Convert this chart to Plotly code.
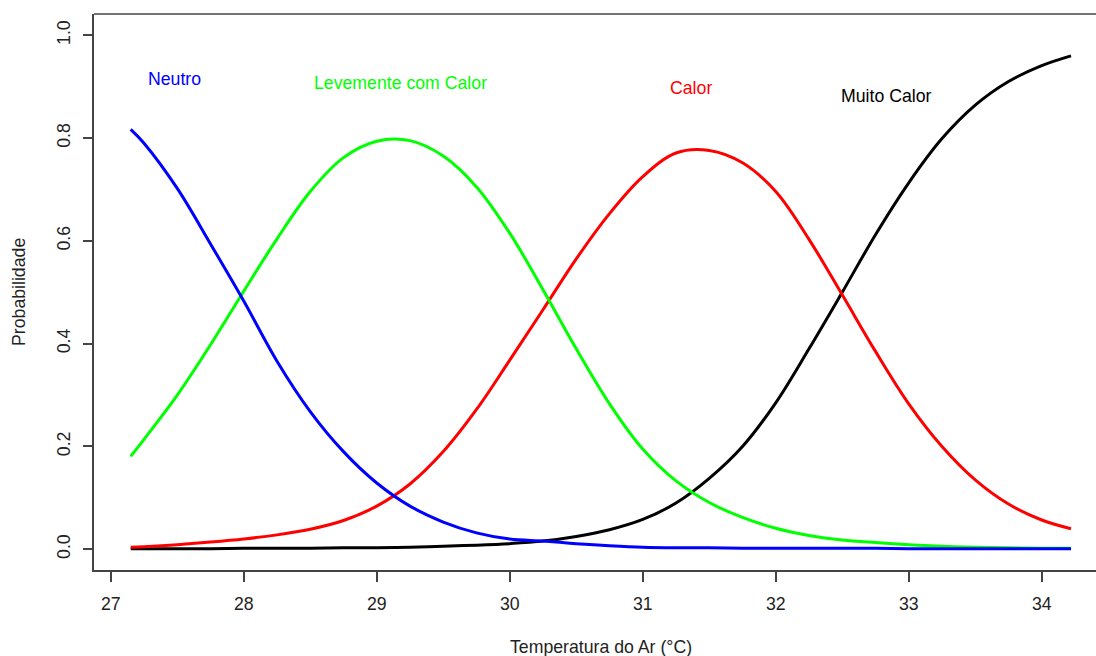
import plotly.graph_objects as go

# Air temperature grid (°C) and predicted probability of each thermal-sensation class
temperatura = [27.15, 27.25, 27.5, 27.75, 28.0, 28.25, 28.5, 28.75, 29.0, 29.25, 29.5,
               29.75, 30.0, 30.25, 30.5, 30.75, 31.0, 31.25, 31.5, 31.75, 32.0,
               32.25, 32.5, 32.75, 33.0, 33.25, 33.5, 33.75, 34.0, 34.22]

p_neutro = [0.817, 0.790, 0.702, 0.594, 0.483, 0.366, 0.268, 0.190, 0.129, 0.084, 0.053,
            0.032, 0.020, 0.016, 0.011, 0.007, 0.004, 0.003, 0.003, 0.002, 0.002,
            0.002, 0.002, 0.002, 0.001, 0.001, 0.001, 0.001, 0.001, 0.001]

p_levemente = [0.181, 0.214, 0.300, 0.398, 0.502, 0.604, 0.696, 0.762, 0.794, 0.795, 0.765,
               0.705, 0.615, 0.505, 0.390, 0.283, 0.195, 0.133, 0.091, 0.062, 0.041,
               0.027, 0.018, 0.013, 0.009, 0.006, 0.004, 0.003, 0.002, 0.002]

p_calor = [0.004, 0.005, 0.009, 0.014, 0.020, 0.028, 0.039, 0.056, 0.084, 0.127, 0.190,
           0.272, 0.368, 0.466, 0.565, 0.653, 0.725, 0.771, 0.776, 0.752, 0.696,
           0.603, 0.495, 0.385, 0.283, 0.200, 0.135, 0.088, 0.057, 0.040]

p_muito_calor = [0.001, 0.001, 0.001, 0.001, 0.002, 0.002, 0.002, 0.003, 0.003, 0.004, 0.006,
                 0.008, 0.011, 0.016, 0.025, 0.038, 0.058, 0.090, 0.138, 0.200, 0.285,
                 0.390, 0.500, 0.612, 0.713, 0.799, 0.864, 0.910, 0.941, 0.960]

classes = ["Neutro", "Levemente com Calor", "Calor", "Muito Calor"]
cores = ["#0000FF", "#00FF00", "#FF0000", "#000000"]
series = [p_neutro, p_levemente, p_calor, p_muito_calor]

# Label anchor points (temperature, probability) for each class name
rotulo_x = [27.48, 29.175, 31.36, 32.83]
rotulo_y = [0.915, 0.907, 0.897, 0.881]

FONTE = "Liberation Sans, Arial, sans-serif"
EIXO = "#444444"
TEXTO = "#222222"

fig = go.Figure()

for idx in [3, 2, 1, 0]:
    fig.add_trace(go.Scatter(
        x=temperatura, y=series[idx], mode="lines", name=classes[idx],
        line=dict(color=cores[idx], width=3, shape="spline", smoothing=1.0),
        showlegend=False, hoverinfo="skip",
    ))

for nome, cor, lx, ly in zip(classes, cores, rotulo_x, rotulo_y):
    fig.add_annotation(x=lx, y=ly, xref="x", yref="y", text=nome, showarrow=False,
                       font=dict(family=FONTE, size=17.7, color=cor),
                       xanchor="center", yanchor="middle")

# Axis titles
fig.add_annotation(x=0.5055, y=-0.1385, xref="paper", yref="paper",
                   text="Temperatura do Ar (°C)", showarrow=False,
                   font=dict(family=FONTE, size=17.7, color=TEXTO),
                   xanchor="center", yanchor="middle")
fig.add_annotation(x=-0.0749, y=0.5, xref="paper", yref="paper",
                   text="Probabilidade", showarrow=False, textangle=-90,
                   font=dict(family=FONTE, size=17.7, color=TEXTO),
                   xanchor="center", yanchor="middle")

# Top border of the plotting box
fig.add_shape(type="line", xref="paper", yref="paper", x0=0, x1=1, y0=1, y1=1,
              line=dict(color=EIXO, width=1.5))

fig.update_layout(
    width=1096, height=656,
    margin=dict(l=94, r=0, t=14, b=86),
    paper_bgcolor="white", plot_bgcolor="white",
    font=dict(family=FONTE, size=17.7, color=TEXTO),
    xaxis=dict(
        range=[26.874, 34.408], tickvals=[27, 28, 29, 30, 31, 32, 33, 34],
        showgrid=False, zeroline=False, showline=True, linecolor=EIXO, linewidth=1.5,
        ticks="outside", ticklen=10, tickwidth=1.5, tickcolor=EIXO,
        tickfont=dict(family=FONTE, size=17.7, color=TEXTO), ticklabelstandoff=7,
    ),
    yaxis=dict(
        range=[-0.0403, 1.0414], tickvals=[0, 0.2, 0.4, 0.6, 0.8, 1.0], tickformat=".1f",
        showgrid=False, zeroline=False, showline=True, linecolor=EIXO, linewidth=1.5,
        ticks="outside", ticklen=9, tickwidth=1.5, tickcolor=EIXO, tickangle=-90,
        tickfont=dict(family=FONTE, size=17.7, color=TEXTO), ticklabelstandoff=6,
    ),
)

fig.write_html("out.html")
